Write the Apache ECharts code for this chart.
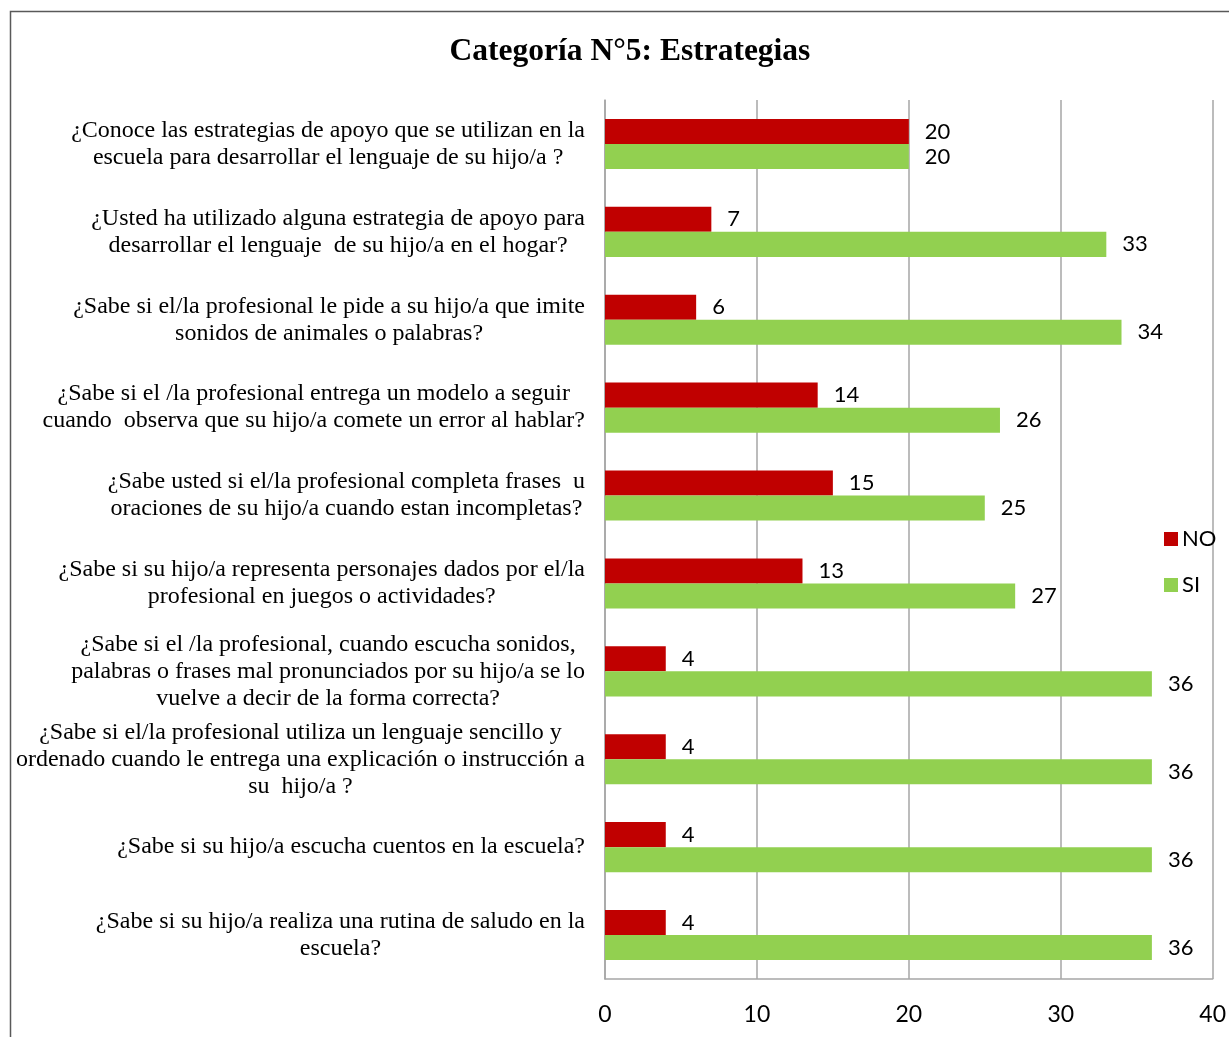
<!DOCTYPE html>
<html>
<head>
<meta charset="utf-8">
<script src="https://cdn.jsdelivr.net/npm/echarts@6/dist/echarts.min.js"></script>
<style>
  html, body { margin: 0; padding: 0; background: #fff; }
  #chart { width: 1229px; height: 1037px; }
</style>
</head>
<body>
<div id="chart"></div>
<script>
var categories = [
  '¿Conoce las estrategias de apoyo que se utilizan en la\nescuela para desarrollar el lenguaje de su hijo/a ?',
  '¿Usted ha utilizado alguna estrategia de apoyo para\ndesarrollar el lenguaje  de su hijo/a en el hogar?',
  '¿Sabe si el/la profesional le pide a su hijo/a que imite\nsonidos de animales o palabras?',
  '¿Sabe si el /la profesional entrega un modelo a seguir\ncuando  observa que su hijo/a comete un error al hablar?',
  '¿Sabe usted si el/la profesional completa frases  u\noraciones de su hijo/a cuando estan incompletas?',
  '¿Sabe si su hijo/a representa personajes dados por el/la\nprofesional en juegos o actividades?',
  '¿Sabe si el /la profesional, cuando escucha sonidos,\npalabras o frases mal pronunciados por su hijo/a se lo\nvuelve a decir de la forma correcta?',
  '¿Sabe si el/la profesional utiliza un lenguaje sencillo y\nordenado cuando le entrega una explicación o instrucción a\nsu  hijo/a ?',
  '¿Sabe si su hijo/a escucha cuentos en la escuela?',
  '¿Sabe si su hijo/a realiza una rutina de saludo en la\nescuela?'
];
var valuesNO = [20, 7, 6, 14, 15, 13, 4, 4, 4, 4];
var valuesSI = [20, 33, 34, 26, 25, 27, 36, 36, 36, 36];
var xTicks = [0, 10, 20, 30, 40];

var chart = echarts.init(document.getElementById('chart'));

var labelStyle = {
  show: true,
  position: 'right',
  distance: 16,
  color: '#000',
  fontFamily: 'Lato',
  fontSize: 22
};

chart.setOption({
  animation: false,
  backgroundColor: '#fff',
  title: {
    text: 'Categoría N°5: Estrategias',
    left: 625,
    textAlign: 'center',
    top: 31,
    textStyle: {
      fontFamily: 'Liberation Serif',
      fontWeight: 'bold',
      fontSize: 31.5,
      color: '#000'
    }
  },
  graphic: [{
    type: 'rect',
    shape: { x: 10.5, y: 11.5, width: 1400, height: 1200 },
    style: { fill: 'none', stroke: '#595959', lineWidth: 1.5 },
    silent: true
  }],
  legend: {
    orient: 'vertical',
    left: 1159,
    top: 523,
    itemWidth: 14,
    itemHeight: 14,
    itemGap: 24,
    icon: 'rect',
    textStyle: { fontFamily: 'Lato', fontSize: 22, color: '#000', padding: [0, 0, 0, -1] },
    data: ['NO', 'SI']
  },
  grid: {
    left: 605,
    right: 15,
    top: 100,
    bottom: 58,
    containLabel: false
  },
  xAxis: {
    type: 'value',
    min: xTicks[0],
    max: xTicks[xTicks.length - 1],
    interval: 10,
    axisLine: { show: true, lineStyle: { color: '#a6a6a6', width: 1.5 } },
    axisTick: { show: false },
    splitLine: { show: true, lineStyle: { color: '#a6a6a6', width: 1.5 } },
    axisLabel: {
      margin: 24,
      color: '#000',
      fontFamily: 'Lato',
      fontSize: 23
    }
  },
  yAxis: {
    type: 'category',
    inverse: true,
    data: categories,
    axisLine: { show: true, lineStyle: { color: '#a6a6a6', width: 1.5 } },
    axisTick: { show: false },
    axisLabel: {
      margin: 20,
      align: 'right',
      formatter: function (v) {
        return v.split('\n').map(function (l) { return '{c|' + l + '}'; }).join('\n');
      },
      rich: {
        c: {
          align: 'center',
          fontFamily: 'Liberation Serif',
          fontSize: 24,
          lineHeight: 27,
          color: '#000'
        }
      }
    }
  },
  series: [{
    name: 'NO',
    type: 'bar',
    data: valuesNO,
    barGap: '0%',
    barCategoryGap: '43%',
    itemStyle: { color: '#c00000' },
    label: labelStyle
  }, {
    name: 'SI',
    type: 'bar',
    data: valuesSI,
    barGap: '0%',
    barCategoryGap: '43%',
    itemStyle: { color: '#92d050' },
    label: labelStyle
  }]
});
</script>
</body>
</html>
